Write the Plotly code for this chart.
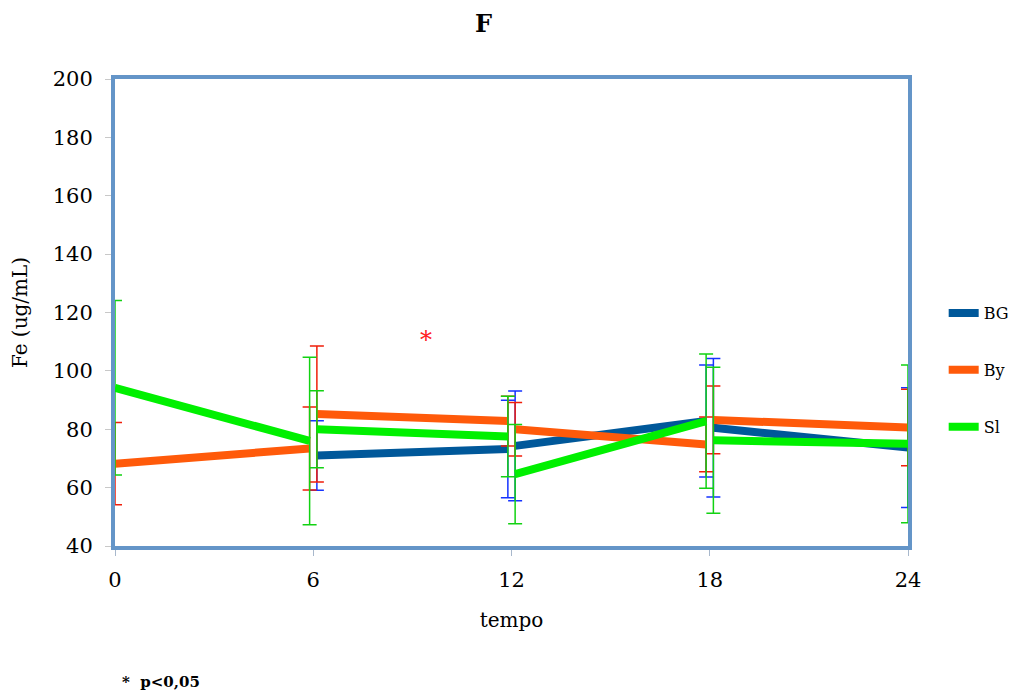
import plotly.graph_objects as go

# ---- data ----
times = [0, 6, 12, 18, 24]
series_names = ["BG", "By", "Sl"]

# each series is drawn as 4 segments: times[i] -> times[i+1]
bg_start = [None, 71.0, 74.3, 80.5]
bg_end = [None, 73.2, 82.8, 73.7]
bg_start_err = [None, 11.9, 18.8, 23.7]
bg_end_err = [None, 16.7, 19.2, 20.5]

by_start = [68.2, 85.2, 80.0, 83.2]
by_end = [73.4, 82.8, 74.8, 80.6]
by_start_err = [14.1, 23.3, 9.2, 11.6]
by_end_err = [14.2, 8.5, 9.4, 13.1]

sl_start = [94.2, 80.0, 64.6, 76.2]
sl_end = [76.0, 77.5, 82.8, 75.0]
sl_start_err = [29.9, 13.2, 17.0, 25.0]
sl_end_err = [28.7, 13.8, 23.0, 27.0]

line_colors = ["#00589A", "#FF5A0A", "#00F000"]
err_colors = ["#1533FF", "#F01E0A", "#12D212"]

star_time, star_value = 9.4, 110.5

offset = 0.11  # small shift separating segment ends/starts at one time point


def build(starts, ends, s_err, e_err):
    xs, ys, es = [], [], []
    n = len(times) - 1
    for i in range(n):
        x0 = times[i] + (offset if i > 0 else 0)
        x1 = times[i + 1] - (offset if i + 1 < n else 0)
        xs += [x0, x1, None]
        ys += [starts[i], ends[i], None]
        es += [s_err[i], e_err[i], None]
    return xs, ys, es


data = [
    (bg_start, bg_end, bg_start_err, bg_end_err),
    (by_start, by_end, by_start_err, by_end_err),
    (sl_start, sl_end, sl_start_err, sl_end_err),
]

fig = go.Figure()
for name, (s, e, se, ee), lc, ec in zip(series_names, data, line_colors, err_colors):
    xs, ys, es = build(s, e, se, ee)
    fig.add_trace(go.Scatter(
        x=xs, y=ys, name=name, mode="lines", legendgroup=name,
        line=dict(color=lc, width=8),
        connectgaps=False,
        error_y=dict(type="data", array=es, visible=True, color=ec,
                     thickness=1.5, width=7),
    ))

fig.add_annotation(x=star_time, y=star_value, text="*", showarrow=False,
                   font=dict(color="#FF2020", size=24, family="DejaVu Serif"),
                   xref="x", yref="y")
fig.add_annotation(x=0.006, y=-0.292, xref="paper", yref="paper",
                   text="<b>*  p<0,05</b>", showarrow=False,
                   xanchor="left", yanchor="middle",
                   font=dict(size=15, family="DejaVu Serif", color="black"))

axis_color = "#6495C8"
fig.update_layout(
    width=1027, height=698,
    margin=dict(l=107, r=127, t=71, b=160),
    paper_bgcolor="white", plot_bgcolor="white",
    font=dict(family="DejaVu Serif", size=21, color="black"),
    title=dict(text="<b>F</b>", x=0.463, xanchor="center", y=0.978, yanchor="middle",
               font=dict(size=24, family="DejaVu Serif")),
    legend=dict(x=1.045, y=0.535, xanchor="left", yanchor="top",
                font=dict(size=16, family="DejaVu Serif"),
                tracegroupgap=33, bgcolor="rgba(0,0,0,0)"),
    showlegend=True,
)
fig.update_xaxes(
    range=[0, 24], tickvals=times, ticktext=[str(t) for t in times],
    showgrid=False, zeroline=False, automargin=False,
    showline=True, mirror=True, linecolor=axis_color, linewidth=4,
    ticks="outside", ticklen=6, tickcolor="#A8B8CC", ticklabelstandoff=6,
    title=dict(text="tempo", standoff=23, font=dict(size=20)),
)
fig.update_yaxes(
    range=[40, 200], dtick=20,
    showgrid=False, zeroline=False, automargin=False,
    showline=True, mirror=True, linecolor=axis_color, linewidth=4,
    ticks="outside", ticklen=6, tickcolor="#C8C8C8", ticklabelstandoff=8,
    title=dict(text="Fe (ug/mL)", standoff=22, font=dict(size=20)),
)

fig.write_html("out.html")
